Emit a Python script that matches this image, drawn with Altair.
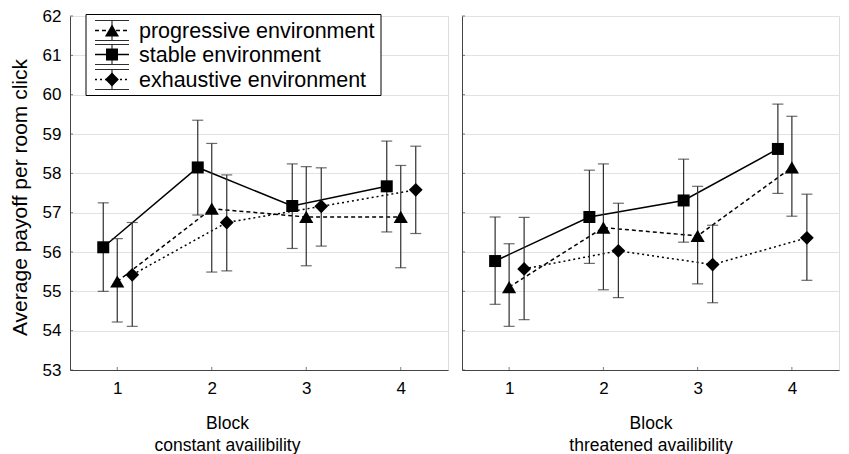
import altair as alt
import pandas as pd

FONT = "Liberation Sans"

blocks = [1, 2, 3, 4]
envs = ["progressive environment", "stable environment", "exhaustive environment"]

# constant availability panel
c_prog_mean = [55.25, 57.10, 56.89, 56.89]
c_prog_lo = [54.22, 55.49, 55.65, 55.60]
c_prog_hi = [56.34, 58.76, 58.17, 58.20]
c_stab_mean = [56.12, 58.15, 57.17, 57.67]
c_stab_lo = [55.00, 56.94, 56.09, 56.51]
c_stab_hi = [57.25, 59.35, 58.24, 58.82]
c_exh_mean = [55.42, 56.75, 57.16, 57.58]
c_exh_lo = [54.11, 55.52, 56.15, 56.47]
c_exh_hi = [56.75, 57.96, 58.14, 58.69]

# threatened availability panel
t_prog_mean = [55.11, 56.62, 56.41, 58.15]
t_prog_lo = [54.11, 55.04, 55.19, 56.91]
t_prog_hi = [56.21, 58.24, 57.67, 59.45]
t_stab_mean = [55.77, 56.89, 57.31, 58.62]
t_stab_lo = [54.67, 55.71, 56.25, 57.49]
t_stab_hi = [56.89, 58.08, 58.36, 59.76]
t_exh_mean = [55.57, 56.03, 55.68, 56.36]
t_exh_lo = [54.28, 54.84, 54.71, 55.28]
t_exh_hi = [56.88, 57.24, 56.68, 57.47]

y_ticks = [53, 54, 55, 56, 57, 58, 59, 60, 61, 62]
x_ticks = [1, 2, 3, 4]


def make_df(series):
    rows = []
    for env, (m, lo, hi) in zip(envs, series):
        for b, mv, l, h in zip(blocks, m, lo, hi):
            rows.append({"block": b, "env": env, "mean": mv, "lo": l, "hi": h})
    return pd.DataFrame(rows)


df_c = make_df([(c_prog_mean, c_prog_lo, c_prog_hi),
                (c_stab_mean, c_stab_lo, c_stab_hi),
                (c_exh_mean, c_exh_lo, c_exh_hi)])
df_t = make_df([(t_prog_mean, t_prog_lo, t_prog_hi),
                (t_stab_mean, t_stab_lo, t_stab_hi),
                (t_exh_mean, t_exh_lo, t_exh_hi)])

styles = {
    "progressive environment": dict(off=0, dash=[4, 3], shape="triangle-up", size=200),
    "stable environment": dict(off=-14, dash=None, shape="square", size=144),
    "exhaustive environment": dict(off=15, dash=[2, 3], shape="diamond", size=190),
}

W_L, W_R, H = 378, 377, 354
ERR = "#2e2e2e"
AX = "#444444"


def line_kwargs(st):
    kw = dict(color="black", strokeWidth=1.5, xOffset=st["off"])
    if st["dash"]:
        kw["strokeDash"] = st["dash"]
    return kw


def panel(df, width, show_y, xtitle, title_x):
    xscale = alt.Scale(domain=[0.5, 4.5], nice=False, zero=False)
    yscale = alt.Scale(domain=[53, 62], nice=False, zero=False)
    xaxis = alt.Axis(values=x_ticks, grid=False, ticks=False, domainColor=AX,
                     labelFontSize=17, labelPadding=10, labelColor="black",
                     title=xtitle, titleFontSize=17.5, titleFontWeight="normal",
                     titleColor="black", titlePadding=18, titleLineHeight=22,
                     titleX=title_x, titleFont=FONT, labelFont=FONT)
    if show_y:
        yaxis = alt.Axis(values=y_ticks, grid=True, gridColor="#e2e2e2", ticks=False,
                         domainColor=AX, labelFontSize=17, labelPadding=9,
                         labelColor="black", labelFont=FONT,
                         title="Average payoff per room click", titleFontSize=21,
                         titleFontWeight="normal", titleColor="black",
                         titlePadding=12, titleFont=FONT, titleY=181)
    else:
        yaxis = alt.Axis(values=y_ticks, grid=True, gridColor="#e2e2e2", ticks=False,
                         domainColor=AX, labels=False, title=None)
    X = alt.X("block:Q", scale=xscale, axis=xaxis)
    Y = alt.Y("mean:Q", scale=yscale, axis=yaxis)
    base = alt.Chart(df)
    layers = []
    for env in envs:
        st = styles[env]
        d = base.transform_filter(alt.datum.env == env)
        layers.append(d.mark_line(**line_kwargs(st)).encode(x=X, y=Y))
    for env in envs:
        st = styles[env]
        d = base.transform_filter(alt.datum.env == env)
        layers.append(d.mark_rule(color=ERR, strokeWidth=1.2, xOffset=st["off"]).encode(
            x=X, y=alt.Y("lo:Q", scale=yscale, axis=yaxis), y2="hi:Q"))
        layers.append(d.mark_tick(orient="horizontal", size=11, thickness=1.2, color=ERR,
                                  xOffset=st["off"]).encode(x=X, y=alt.Y("lo:Q", scale=yscale, axis=yaxis)))
        layers.append(d.mark_tick(orient="horizontal", size=11, thickness=1.2, color=ERR,
                                  xOffset=st["off"]).encode(x=X, y=alt.Y("hi:Q", scale=yscale, axis=yaxis)))
        layers.append(d.mark_point(shape=st["shape"], size=st["size"], filled=True,
                                   color="black", opacity=1, xOffset=st["off"]).encode(x=X, y=Y))
    # inward ticks at the tick values
    yt = alt.Chart(pd.DataFrame({"mean": y_ticks})).mark_tick(
        orient="horizontal", size=3, thickness=1, color=AX).encode(
        y=Y, x=alt.value(1.5))
    xt = alt.Chart(pd.DataFrame({"block": x_ticks})).mark_tick(
        orient="vertical", size=3, thickness=1, color=AX).encode(
        x=X, y=alt.value(H - 1.5))
    layers += [yt, xt]
    return alt.layer(*layers).properties(width=width, height=H)


def legend_layers():
    one = pd.DataFrame({"k": [0]})
    out = [alt.Chart(one).mark_rect(fill="white", stroke="black", strokeWidth=1).encode(
        x=alt.value(16), x2=alt.value(311), y=alt.value(-1.5), y2=alt.value(79.5))]
    rows = [14.5, 38.5, 63.5]
    for env, ry in zip(envs, rows):
        st = styles[env]
        de = pd.DataFrame({"label": [env]})
        c = alt.Chart(de)
        out.append(c.mark_rule(**{k: v for k, v in line_kwargs(st).items() if k != "xOffset"}).encode(
            x=alt.value(25), x2=alt.value(59), y=alt.value(ry)))
        out.append(c.mark_rule(color=ERR, strokeWidth=1.2).encode(
            x=alt.value(42), y=alt.value(ry - 10), y2=alt.value(ry + 10)))
        out.append(c.mark_rule(color=ERR, strokeWidth=1.2).encode(
            x=alt.value(25), x2=alt.value(59), y=alt.value(ry - 10)))
        out.append(c.mark_rule(color=ERR, strokeWidth=1.2).encode(
            x=alt.value(25), x2=alt.value(59), y=alt.value(ry + 10)))
        out.append(c.mark_point(shape=st["shape"], size=st["size"], filled=True,
                                color="black", opacity=1).encode(
            x=alt.value(42), y=alt.value(ry)))
        out.append(c.mark_text(align="left", baseline="middle", fontSize=21.5, font=FONT,
                               color="black").encode(
            x=alt.value(69), y=alt.value(ry + 1), text="label:N"))
    return out


left = panel(df_c, W_L, True, ["Block", "constant availibility"], 157)
left = alt.layer(left, *legend_layers())
right = panel(df_t, W_R, False, ["Block", "threatened availibility"], W_R / 2)

chart = alt.hconcat(left, right, spacing=12).properties(
    padding={"left": 0, "top": -2, "right": 0, "bottom": 0}
).configure_view(stroke=None).configure(font=FONT)

chart.save("out.html", embed_options={"renderer": "svg", "actions": False})
